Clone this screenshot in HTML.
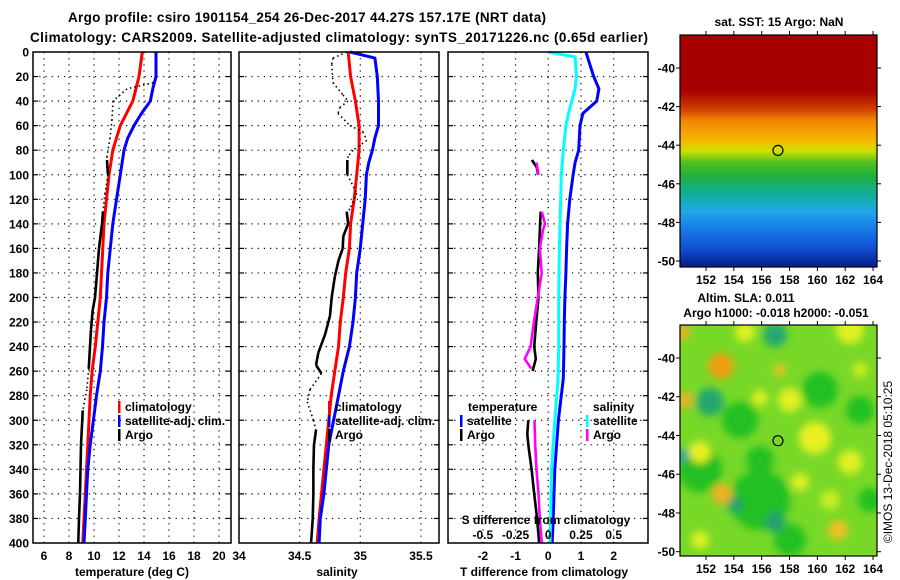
<!DOCTYPE html>
<html><head><meta charset="utf-8">
<style>
html,body{margin:0;padding:0;background:#fff;}
svg{display:block;font-family:"Liberation Sans",sans-serif;font-weight:bold;}
</style></head>
<body>
<svg id="fig" width="900" height="580" viewBox="0 0 900 580" xmlns="http://www.w3.org/2000/svg">
<defs>
<linearGradient id="sstGrad" x1="0" y1="0" x2="0" y2="1">
<stop offset="0" stop-color="#a80000"/>
<stop offset="0.24" stop-color="#a80000"/>
<stop offset="0.32" stop-color="#d04000"/>
<stop offset="0.37" stop-color="#f08800"/>
<stop offset="0.45" stop-color="#f8b400"/>
<stop offset="0.50" stop-color="#d0e000"/>
<stop offset="0.55" stop-color="#50c020"/>
<stop offset="0.61" stop-color="#20b040"/>
<stop offset="0.68" stop-color="#10b090"/>
<stop offset="0.76" stop-color="#20a8e8"/>
<stop offset="0.84" stop-color="#1878e8"/>
<stop offset="0.92" stop-color="#1050d0"/>
<stop offset="0.98" stop-color="#082898"/>
<stop offset="1" stop-color="#082090"/>
</linearGradient>
<filter id="blur" x="-30%" y="-30%" width="160%" height="160%"><feGaussianBlur stdDeviation="4"/></filter>
<clipPath id="clipMap2"><rect x="680" y="325" width="197" height="231"/></clipPath>
</defs>
<text x="307" y="22" text-anchor="middle" font-size="13.5" textLength="478">Argo profile: csiro 1901154_254 26-Dec-2017 44.27S 157.17E (NRT data)</text>
<text x="339" y="42" text-anchor="middle" font-size="13.5" textLength="618">Climatology: CARS2009. Satellite-adjusted climatology: synTS_20171226.nc (0.65d earlier)</text>
<g id="panels"></g>
<g id="maps"></g>
</svg>
<script>
// ---------- data ----------
const depthTicks = [0,20,40,60,80,100,120,140,160,180,200,220,240,260,280,300,320,340,360,380,400];
const tempTicks = [6,8,10,12,14,16,18,20];
const salTicks = [34,34.5,35,35.5];
const salTickLabels = ["34","34.5","35","35.5"];
const dtTicks = [-2,-1,0,1,2];
const dsTicks = [-0.5,-0.25,0,0.25,0.5];
const dsTickLabels = ["-0.5","-0.25","0","0.25","0.5"];

const climTDepth = [0,20,40,50,60,70,80,100,120,140,160,180,200,220,240,260,280,300,320,340,360,380,400];
const climT = [13.86,13.6,13.1,12.6,12.1,11.8,11.5,11.2,11.0,10.8,10.7,10.6,10.5,10.3,10.1,9.85,9.7,9.6,9.5,9.4,9.3,9.2,9.1];
const satTDepth = [0,20,30,40,50,60,70,80,100,120,140,160,180,200,220,240,260,280,300,320,340,360,380,400];
const satT = [14.96,14.96,14.7,14.5,13.8,13.2,12.7,12.4,12.1,11.8,11.5,11.3,11.1,11.0,10.8,10.68,10.5,10.2,9.95,9.7,9.5,9.4,9.3,9.2];
const argoTDepth = [25,30,40,55,70,85,88,95,100,115,130,140,160,183,200,210,226,240,258,275,292,320,360,380,400];
const argoT = [14.74,12.64,11.52,11.44,11.28,11.04,11.04,11.08,11.12,10.88,10.72,10.64,10.4,10.22,10.08,9.9,9.76,9.68,9.58,9.42,9.1,8.96,8.88,8.8,8.74];
const argoTGood = [0,0,0,0,0,0,1,1,1,0,1,1,1,1,1,1,1,1,1,0,1,1,1,1,1];

const climSDepth = [0,20,40,60,80,100,120,140,160,180,200,220,240,260,280,300,320,340,360,380,400];
const climS = [34.90,34.92,34.96,34.99,34.99,34.97,34.95,34.92,34.91,34.88,34.86,34.835,34.82,34.79,34.76,34.74,34.72,34.70,34.68,34.66,34.645];
const satSDepth = [0,5,20,40,60,70,80,90,100,120,140,160,180,200,220,240,260,280,300,320,340,360,380,400];
const satS = [34.915,35.12,35.14,35.15,35.15,35.12,35.10,35.07,35.05,35.04,35.02,35.0,34.97,34.96,34.94,34.91,34.86,34.82,34.78,34.74,34.72,34.70,34.67,34.66];
const argoSDepth = [0,5,10,25,35,40,45,50,60,65,72,80,85,88,100,115,128,130,140,150,160,170,183,200,215,230,245,255,262,275,285,300,308,320,340,360,380,400];
const argoS = [34.888,34.775,34.764,34.775,34.857,34.899,34.833,34.816,34.915,35.022,35.053,34.94,34.90,34.893,34.893,34.97,34.915,34.888,34.90,34.86,34.855,34.82,34.79,34.764,34.75,34.71,34.654,34.635,34.68,34.585,34.563,34.613,34.635,34.618,34.613,34.613,34.608,34.594];
const argoSGood = [0,0,0,0,0,0,0,0,0,0,0,0,0,1,1,0,0,1,1,1,1,1,1,1,1,1,1,1,1,0,0,0,1,1,1,1,1,1];

const satDTDepth = [0,10,20,30,40,45,50,60,70,80,90,100,120,140,160,180,200,220,240,266,300,340,380,400];
const satDT = [1.15,1.27,1.39,1.55,1.48,1.27,1.06,0.97,0.95,0.93,0.82,0.76,0.66,0.59,0.56,0.54,0.51,0.49,0.48,0.46,0.31,0.2,0.15,0.12];
const satDSDepth = [0,4,20,30,40,50,60,80,100,120,140,160,200,240,266,300,340,380,400];
const satDS = [0,0.205,0.215,0.205,0.18,0.155,0.135,0.115,0.1,0.095,0.09,0.085,0.08,0.08,0.075,0.05,0.025,0.018,0.013];
const argoDTDepth = [88,94,100,115,130,140,160,180,200,220,240,250,260,280,300,311,320,340,360,380,400];
const argoDT = [-0.5,-0.35,-0.31,null,-0.23,-0.25,-0.28,-0.32,-0.3,-0.37,-0.43,-0.38,-0.48,null,-0.61,-0.64,-0.61,-0.51,-0.43,-0.34,-0.28];
const argoDSDepth = [90,100,115,130,140,145,160,180,200,220,240,250,258,280,300,320,340,360,380,400];
const argoDS = [-0.09,-0.075,null,-0.05,-0.025,-0.04,-0.065,-0.05,-0.08,-0.11,-0.135,-0.18,-0.13,null,-0.105,-0.1,-0.09,-0.075,-0.065,-0.05];

const lonTicks = [152,154,156,158,160,162,164];
const latTicks = [-40,-42,-44,-46,-48,-50];
const argoLon = 157.17, argoLat = -44.27;
// ---------- helpers ----------
const NS = "http://www.w3.org/2000/svg";
function mk(tag, attrs, parent){const e=document.createElementNS(NS,tag);for(const k in attrs)e.setAttribute(k,attrs[k]);if(parent)parent.appendChild(e);return e;}
const panelsG = document.getElementById("panels");
const mapsG = document.getElementById("maps");
const TOP=52, BOT=543;
const yD = d => TOP + d*(BOT-TOP)/400;

function panel(name, x0, x1, vmin, vmax){
  const g = mk("g",{},panelsG);
  
  
  const sx = v => x0 + (v-vmin)*(x1-x0)/(vmax-vmin);
  return {g, sx};
}
function grid(p, x0, x1, xticks){
  const gg = mk("g",{stroke:"#000","stroke-width":1.2,"stroke-dasharray":"1.2 5"},p.g);
  
  
  depthTicks.forEach(d=>{ if(d>0 && d<400){ mk("line",{x1:x0,x2:x1,y1:yD(d),y2:yD(d)},gg); mk("line",{x1:x0,x2:x0+5,y1:yD(d),y2:yD(d),"stroke-dasharray":"none"},gg); mk("line",{x1:x1-5,x2:x1,y1:yD(d),y2:yD(d),"stroke-dasharray":"none"},gg);} });
  xticks.forEach(v=>{ const x=p.sx(v); if(x>x0+1 && x<x1-1){ mk("line",{x1:x,x2:x,y1:TOP,y2:BOT},gg);} });
}
function frame(p,x0,x1){
  const r = mk("rect",{x:x0,y:TOP,width:x1-x0,height:BOT-TOP,fill:"none",stroke:"#000","stroke-width":1.5},p.g);
  
  
}
function line(p, depths, vals, color, w, name, dash){
  let pts=[];
  const segs=[];
  for(let i=0;i<depths.length;i++){
    if(vals[i]===null){ if(pts.length) segs.push(pts); pts=[]; continue; }
    pts.push(p.sx(vals[i]).toFixed(1)+","+yD(depths[i]).toFixed(1));
  }
  if(pts.length) segs.push(pts);
  segs.forEach(s=>{
    const pl = mk("polyline",{points:s.join(" "),fill:"none",stroke:color,"stroke-width":w,"stroke-linejoin":"round"},p.g);
    if(dash) pl.setAttribute("stroke-dasharray",dash);
    
    
  });
}
function qcLine(p, depths, vals, good, name){
  for(let i=0;i<depths.length-1;i++){
    const ok = good[i] && good[i+1];
    const l = mk("line",{x1:p.sx(vals[i]),y1:yD(depths[i]),x2:p.sx(vals[i+1]),y2:yD(depths[i+1]),stroke:"#000","stroke-width":ok?2.6:1.6},p.g);
    if(!ok) l.setAttribute("stroke-dasharray","1.5 3");
    
    
  }
}
function txt(parent, x, y, s, opts){
  const t = mk("text",Object.assign({x:x,y:y,"font-size":12},opts||{}),parent);
  t.textContent = s;
  return t;
}
function xLabels(p, ticks, labels, y){
  ticks.forEach((v,i)=>{
    const t = txt(p.g, p.sx(v), y, labels?labels[i]:String(v), {"text-anchor":"middle"});
    
    
  });
}
function legend(g, x, y, color, label){
  const r = mk("rect",{x:x,y:y-10,width:2.5,height:12,fill:color},g);
  
  
  const t = txt(g, x+7, y, label);
  
  
}

// ---------- temperature panel ----------
const pT = panel("temperature-panel", 33, 231, 5.12, 20.96);
grid(pT, 33, 231, tempTicks);
line(pT, climTDepth, climT, "#ff0000", 3, "climatology-temperature-line");
line(pT, satTDepth, satT, "#0000ff", 3, "satellite-temperature-line");
qcLine(pT, argoTDepth, argoT, argoTGood, "argo-temperature-line");
frame(pT,33,231);
depthTicks.forEach(d=>{
  const t = txt(pT.g, 29, yD(d)+4.5, String(d), {"text-anchor":"end"});
  
  
});
xLabels(pT, tempTicks, null, 560);
const tTitle = txt(pT.g, 132, 576, "temperature (deg C)", {"text-anchor":"middle"});


legend(pT.g, 118, 411, "#ff0000", "climatology");
legend(pT.g, 118, 425, "#0000ff", "satellite-adj. clim.");
legend(pT.g, 118, 439, "#000000", "Argo");

// ---------- salinity panel ----------
const pS = panel("salinity-panel", 239, 439, 34, 35.6488);
grid(pS, 239, 439, salTicks);
line(pS, climSDepth, climS, "#ff0000", 3, "climatology-salinity-line");
line(pS, satSDepth, satS, "#0000ff", 3, "satellite-salinity-line");
qcLine(pS, argoSDepth, argoS, argoSGood, "argo-salinity-line");
frame(pS,239,439);
xLabels(pS, salTicks, salTickLabels, 560);
const sTitle = txt(pS.g, 337, 576, "salinity", {"text-anchor":"middle"});


legend(pS.g, 328, 411, "#ff0000", "climatology");
legend(pS.g, 328, 425, "#0000ff", "satellite-adj. clim.");
legend(pS.g, 328, 439, "#000000", "Argo");

// ---------- difference panel ----------
const pD = panel("difference-panel", 448, 648, -3.066, 3.05);
const sxS = v => pD.sx(v*4);
grid(pD, 448, 648, dtTicks);
line(pD, satDTDepth, satDT, "#0000ff", 3, "satellite-temperature-difference-line");
const pDs = {g:pD.g, sx:sxS};
line(pDs, satDSDepth, satDS, "#00ffff", 3, "satellite-salinity-difference-line");
line(pD, argoDTDepth, argoDT, "#000000", 2.6, "argo-temperature-difference-line");
line(pDs, argoDSDepth, argoDS, "#ff00ff", 2.6, "argo-salinity-difference-line");
frame(pD,448,648);
xLabels(pD, dtTicks, null, 560);
xLabels(pDs, dsTicks, dsTickLabels, 539);
const dTitle = txt(pD.g, 544, 576, "T difference from climatology", {"text-anchor":"middle"});


const dsTitle = txt(pD.g, 546, 524, "S difference from climatology", {"text-anchor":"middle"});


const lt1 = txt(pD.g, 468, 411, "temperature");


legend(pD.g, 460, 425, "#0000ff", "satellite");
legend(pD.g, 460, 439, "#000000", "Argo");
const lt2 = txt(pD.g, 593, 411, "salinity");


legend(pD.g, 586, 425, "#00ffff", "satellite");
legend(pD.g, 586, 439, "#ff00ff", "Argo");

// ---------- maps ----------
function mapAxes(g, x0, y0, x1, y1, lonX, latY, labelY){
  const r = mk("rect",{x:x0,y:y0,width:x1-x0,height:y1-y0,fill:"none",stroke:"#000","stroke-width":1.2},g);
  
  
  lonTicks.forEach(v=>{
    const x = lonX(v);
    mk("line",{x1:x,x2:x,y1:y0-4,y2:y0,stroke:"#000"},g);
    mk("line",{x1:x,x2:x,y1:y1,y2:y1+4,stroke:"#000"},g);
    const t = txt(g, x, labelY, String(v), {"text-anchor":"middle"});
    
    
  });
  latTicks.forEach(v=>{
    const y = latY(v);
    mk("line",{x1:x0-4,x2:x0,y1:y,y2:y,stroke:"#000"},g);
    mk("line",{x1:x1,x2:x1+4,y1:y,y2:y,stroke:"#000"},g);
    const t = txt(g, x0-5, y+4.5, String(v), {"text-anchor":"end"});
    
    
  });
}
const lon1 = v => 706 + (v-152)*13.92;
const lat1 = v => 68 + (-40 - v)*19.3;
const m1 = mk("g",{},mapsG);


const sstRect = mk("rect",{x:680,y:35,width:197,height:232,fill:"url(#sstGrad)"},m1);


const pm1 = mk("circle",{cx:lon1(argoLon),cy:lat1(argoLat),r:5,fill:"none",stroke:"#000","stroke-width":1.2},m1);


mapAxes(m1, 680, 35, 877, 267, lon1, lat1, 284);
const st = txt(m1, 779, 26, "sat. SST: 15 Argo: NaN", {"text-anchor":"middle"});



const lon2 = v => 706 + (v-152)*13.92;
const lat2 = v => 358 + (-40 - v)*19.37;
const m2 = mk("g",{},mapsG);


const slaBg = mk("rect",{x:680,y:325,width:197,height:231,fill:"#78d828"},m2);


const blobG = mk("g",{"clip-path":"url(#clipMap2)"},m2);
const bl = mk("g",{filter:"url(#blur)"},blobG);
[[700,470,22,"#20c020"],[760,500,30,"#20c020"],[820,390,18,"#20c020"],[860,410,14,"#20c020"],[740,420,18,"#20c020"],[790,540,16,"#20c020"],[760,460,14,"#20c020"],[870,500,12,"#20c020"],
 [775,335,12,"#20a870"],[710,402,14,"#20a870"],[683,455,6,"#20a0a0"],[775,522,10,"#20a070"],[735,505,8,"#20a070"],
 [850,330,14,"#e0f020"],[745,332,10,"#e0f020"],[790,400,12,"#e0f020"],[815,438,16,"#e8f020"],[850,462,12,"#e0f020"],[800,482,9,"#e0f020"],[760,398,8,"#e0f020"],[700,452,11,"#e8f020"],[700,540,9,"#e0f020"],[860,370,8,"#c8ec20"],[830,500,10,"#c8ec20"],
 [721,366,13,"#f0a010"],[685,400,8,"#f0b020"],[722,494,10,"#f0b020"],[838,530,10,"#f0c020"],[683,333,7,"#f0b020"],[780,370,6,"#f0c020"]
].forEach(b=>{ mk("circle",{cx:b[0],cy:b[1],r:b[2],fill:b[3]},bl); });
const pm2 = mk("circle",{cx:lon2(argoLon),cy:lat2(argoLat),r:5,fill:"none",stroke:"#000","stroke-width":1.2},m2);


mapAxes(m2, 680, 325, 877, 556, lon2, lat2, 573);
const t2a = txt(m2, 746, 302, "Altim. SLA: 0.011", {"text-anchor":"middle"});


const t2b = txt(m2, 776, 317, "Argo h1000: -0.018 h2000: -0.051", {"text-anchor":"middle"});


const cr = txt(mapsG, 0, 0, "\u00a9IMOS 13-Dec-2018 05:10:25", {"text-anchor":"middle","font-weight":"normal","font-size":12,transform:"translate(892,462) rotate(-90)"});


</script>
</body></html>
